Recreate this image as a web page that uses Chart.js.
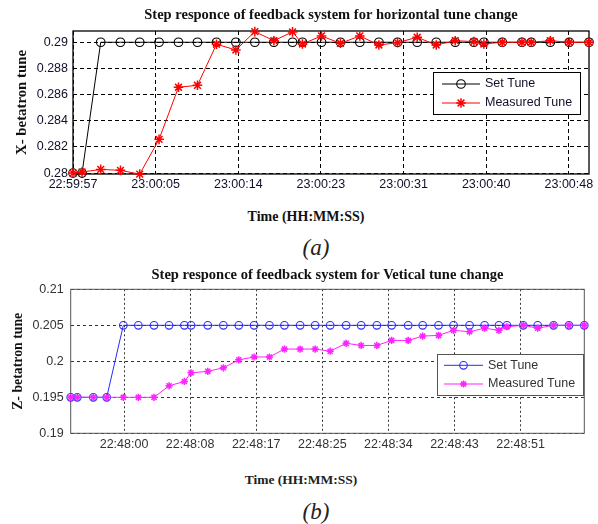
<!DOCTYPE html>
<html>
<head>
<meta charset="utf-8">
<script src="https://cdn.jsdelivr.net/npm/chart.js@4.4.1/dist/chart.umd.min.js"></script>
<style>
  html, body { margin: 0; padding: 0; background: #fff; }
  #page { position: relative; width: 598px; height: 524px; overflow: hidden; }
  canvas { position: absolute; left: 0; }
  .lbl { position: absolute; transform: translate(-50%, -50%); white-space: nowrap; line-height: 1;
         font-family: 'Liberation Serif', 'Times New Roman', serif; }
  .xt { font-weight: bold; color: #111; }
  .cap { font-style: italic; font-size: 23px; color: #222; }
</style>
</head>
<body>
<div id="page">
  <canvas id="hChart" width="598" height="200" style="top:0"></canvas>
  <div class="lbl xt" style="left:306px; top:217px; font-size:14px;">Time (HH:MM:SS)</div>
  <div class="lbl cap" style="left:316px; top:247px;">(a)</div>

  <canvas id="vChart" width="598" height="200" style="top:260px"></canvas>
  <div class="lbl xt" style="left:301px; top:480px; font-size:13.5px; color:#222;">Time (HH:MM:SS)</div>
  <div class="lbl cap" style="left:316px; top:511px;">(b)</div>
</div>
<script>
// --- horizontal tune step (a) ---
const hTimeSec = [0, 0.93, 2.85, 4.88, 6.86, 8.85, 10.85, 12.80, 14.76, 16.75, 18.70, 20.66, 22.58, 23.60, 25.56,
                  27.51, 29.50, 31.46, 33.38, 35.40, 37.36, 39.31, 41.23, 42.26, 44.15, 46.17, 47.13, 49.09, 51.04, 53.07];
const hSetTune = [0.28, 0.28, 0.29, 0.29, 0.29, 0.29, 0.29, 0.29, 0.29, 0.29, 0.29, 0.29, 0.29, 0.29, 0.29,
                  0.29, 0.29, 0.29, 0.29, 0.29, 0.29, 0.29, 0.29, 0.29, 0.29, 0.29, 0.29, 0.29, 0.29, 0.29];
const hMeasured = [0.2800, 0.28008, 0.28028, 0.28021, 0.27992, 0.28258, 0.28656, 0.28671, 0.28985, 0.28941,
                   0.29081, 0.29012, 0.29079, 0.28987, 0.29048, 0.28992, 0.29048, 0.28979, 0.28997, 0.29038,
                   0.28979, 0.29012, 0.29005, 0.28987, 0.29, 0.29, 0.29, 0.29012, 0.29, 0.29];
const hTickSec = [0, 8.5, 17, 25.5, 34, 42.5, 51];
const hTickLabels = ['22:59:57', '23:00:05', '23:00:14', '23:00:23', '23:00:31', '23:00:40', '23:00:48'];
const hYTicks = [0.28, 0.282, 0.284, 0.286, 0.288, 0.29];

// --- vertical tune step (b) ---
const vTimeSec = [-6.86, -6.01, -3.95, -2.23, -0.09, 1.84, 3.86, 5.79, 7.76, 8.62, 10.77, 12.78, 14.76, 16.73,
                  18.70, 20.63, 22.65, 24.58, 26.51, 28.57, 30.50, 32.52, 34.42, 36.55, 38.41, 40.45, 42.38,
                  44.44, 46.37, 48.22, 49.25, 51.35, 53.21, 55.25, 57.23, 59.20];
const vSetTune = [0.195, 0.195, 0.195, 0.195, 0.205, 0.205, 0.205, 0.205, 0.205, 0.205, 0.205, 0.205, 0.205,
                  0.205, 0.205, 0.205, 0.205, 0.205, 0.205, 0.205, 0.205, 0.205, 0.205, 0.205, 0.205, 0.205,
                  0.205, 0.205, 0.205, 0.205, 0.205, 0.205, 0.205, 0.205, 0.205, 0.205];
const vMeasured = [0.195, 0.195, 0.195, 0.195, 0.195, 0.195, 0.195, 0.1966, 0.1972, 0.1984, 0.1986, 0.1991,
                   0.2002, 0.2006, 0.2006, 0.2017, 0.2017, 0.2017, 0.2014, 0.2025, 0.2022, 0.2022, 0.2029,
                   0.2029, 0.2035, 0.2036, 0.2043, 0.2041, 0.2046, 0.2043, 0.2048, 0.205, 0.2046, 0.205,
                   0.205, 0.205];
const vTickSec = [0, 8.5, 17, 25.5, 34, 42.5, 51];
const vTickLabels = ['22:48:00', '22:48:08', '22:48:17', '22:48:25', '22:48:34', '22:48:43', '22:48:51'];
const vYTicks = [0.19, 0.195, 0.2, 0.205, 0.21];

const SERIF = "'Liberation Serif', 'Times New Roman', serif";
const SANS = "'Liberation Sans', Arial, sans-serif";
Chart.defaults.font.family = SANS;

function toPoints(xs, ys) {
    return xs.map((x, i) => ({ x: x, y: ys[i] }));
}

function drawMarker(ctx, style, x, y, r, stroke, fill, lw) {
    ctx.save();
    ctx.strokeStyle = stroke;
    ctx.fillStyle = fill;
    ctx.lineWidth = lw;
    ctx.beginPath();
    if (style === 'circle') {
        ctx.arc(x, y, r, 0, Math.PI * 2);
        ctx.fill();
    } else {
        for (let k = 0; k < 4; k++) {
            const a = k * Math.PI / 4;
            ctx.moveTo(x - Math.cos(a) * r, y - Math.sin(a) * r);
            ctx.lineTo(x + Math.cos(a) * r, y + Math.sin(a) * r);
        }
    }
    ctx.stroke();
    ctx.restore();
}

// box round the plot area, like matlab's "box on"
const framePlugin = {
    id: 'frame',
    beforeDatasetsDraw(chart, args, opts) {
        const a = chart.chartArea;
        const ctx = chart.ctx;
        ctx.save();
        ctx.setLineDash([]);
        ctx.strokeStyle = opts.color;
        ctx.lineWidth = opts.width;
        ctx.strokeRect(a.left, a.top, a.right - a.left, a.bottom - a.top);
        ctx.restore();
    }
};

// legend box with line + marker samples
const legendPlugin = {
    id: 'tuneLegend',
    afterDatasetsDraw(chart, args, o) {
        const ctx = chart.ctx;
        const [bx, by, bw, bh] = o.box;
        ctx.save();
        ctx.setLineDash([]);
        ctx.fillStyle = '#fff';
        ctx.fillRect(bx, by, bw, bh);
        ctx.strokeStyle = o.borderColor;
        ctx.lineWidth = 1;
        ctx.strokeRect(bx + 0.5, by + 0.5, bw, bh);
        chart.data.datasets.forEach((ds, i) => {
            const y = o.rows[i];
            ctx.strokeStyle = ds.borderColor;
            ctx.lineWidth = ds.borderWidth;
            ctx.beginPath();
            ctx.moveTo(o.lineFrom, y);
            ctx.lineTo(o.lineTo, y);
            ctx.stroke();
            drawMarker(ctx, ds.pointStyle, (o.lineFrom + o.lineTo) / 2, y, ds.pointRadius,
                       ds.pointBorderColor, ds.pointBackgroundColor, ds.pointBorderWidth);
            ctx.fillStyle = o.textColor;
            ctx.font = o.font;
            ctx.textBaseline = 'middle';
            ctx.textAlign = 'left';
            ctx.fillText(ds.label, o.textX, y);
        });
        ctx.restore();
    }
};

function makeChart(id, cfg) {
    return new Chart(document.getElementById(id), {
        type: 'line',
        data: {
            datasets: [{
                label: 'Set Tune',
                data: toPoints(cfg.x, cfg.set),
                borderColor: cfg.setColor,
                borderWidth: 1,
                pointStyle: 'circle',
                pointRadius: cfg.circleR,
                pointBorderWidth: 1.1,
                pointBorderColor: cfg.setColor,
                pointBackgroundColor: 'rgba(255,255,255,0)',
                tension: 0,
                clip: false,
                order: 2
            }, {
                label: 'Measured Tune',
                data: toPoints(cfg.x, cfg.measured),
                borderColor: cfg.measColor,
                borderWidth: 1,
                pointStyle: 'star',
                pointRadius: cfg.starR,
                pointBorderWidth: cfg.starW,
                pointBorderColor: cfg.measColor,
                pointBackgroundColor: cfg.measColor,
                tension: 0,
                clip: false,
                order: 1
            }]
        },
        options: {
            responsive: false,
            animation: false,
            devicePixelRatio: 1,
            layout: { padding: { left: 0, right: cfg.padRight, top: 0, bottom: 0 } },
            plugins: {
                legend: { display: false },
                tooltip: { enabled: false },
                title: {
                    display: true,
                    text: cfg.title,
                    fullSize: false,
                    color: '#111',
                    font: { family: SERIF, size: 14.5, weight: 'bold' },
                    padding: cfg.titlePad
                },
                frame: { color: cfg.frameColor, width: cfg.frameWidth },
                tuneLegend: cfg.legend
            },
            scales: {
                x: {
                    type: 'linear',
                    min: cfg.xMin,
                    max: cfg.xMax,
                    afterBuildTicks: axis => { axis.ticks = cfg.xTicks.map(v => ({ value: v })); },
                    afterFit: axis => { axis.height = cfg.xAxisH; },
                    grid: { color: cfg.gridColor, drawTicks: false, borderDash: cfg.xDash },
                    border: { display: false, dash: cfg.xDash },
                    ticks: {
                        autoSkip: false,
                        maxRotation: 0,
                        padding: cfg.xTickPad,
                        color: cfg.tickColor,
                        font: { size: 12.5 },
                        callback: (v, i) => cfg.xLabels[i]
                    }
                },
                y: {
                    type: 'linear',
                    min: cfg.yMin,
                    max: cfg.yMax,
                    afterBuildTicks: axis => { axis.ticks = cfg.yTicks.map(v => ({ value: v })); },
                    afterFit: axis => { axis.width = cfg.yAxisW; },
                    grid: { color: cfg.gridColor, drawTicks: false, borderDash: cfg.yDash },
                    border: { display: false, dash: cfg.yDash },
                    ticks: {
                        padding: cfg.yTickPad,
                        color: cfg.tickColor,
                        font: { size: 12.5 },
                        callback: v => String(v)
                    },
                    title: {
                        display: true,
                        text: cfg.yTitle,
                        color: '#111',
                        font: { family: SERIF, size: cfg.yTitleSize, weight: 'bold' },
                        padding: { top: cfg.yTitlePad, bottom: 0 }
                    }
                }
            }
        },
        plugins: [framePlugin, legendPlugin]
    });
}

makeChart('hChart', {
    x: hTimeSec, set: hSetTune, measured: hMeasured,
    setColor: '#000000', measColor: '#ff0000', circleR: 4.3, starR: 4.8, starW: 1.5,
    title: 'Step responce of feedback system for horizontal tune change',
    titlePad: { top: 7, bottom: 6.6 },
    padRight: 9,
    xMin: 0, xMax: 53.07, xTicks: hTickSec, xLabels: hTickLabels, xAxisH: 26, xTickPad: 3.5,
    yMin: 0.27993, yMax: 0.29086, yTicks: hYTicks, yAxisW: 73, yTickPad: 5,
    yTitle: 'X- betatron tune', yTitleSize: 14.8, yTitlePad: 13.2,
    gridColor: '#000', xDash: [4, 3], yDash: [4, 3], tickColor: '#10102a',
    frameColor: '#000', frameWidth: 1.3,
    legend: {
        box: [433, 72, 147, 42], rows: [84, 103], lineFrom: 442, lineTo: 480, textX: 485,
        borderColor: '#000', textColor: '#10102a', font: '12.5px ' + SANS
    }
});

makeChart('vChart', {
    x: vTimeSec, set: vSetTune, measured: vMeasured,
    setColor: '#2a2aff', measColor: '#ff22ff', circleR: 3.8, starR: 3.6, starW: 1.5,
    title: 'Step responce of feedback system for Vetical tune change',
    titlePad: { top: 7, bottom: 4.9 },
    padRight: 13.7,
    xMin: -6.86, xMax: 59.2, xTicks: vTickSec, xLabels: vTickLabels, xAxisH: 26.7, xTickPad: 4.2,
    yMin: 0.19, yMax: 0.21, yTicks: vYTicks, yAxisW: 70.7, yTickPad: 7,
    yTitle: 'Z- betatron tune', yTitleSize: 13.8, yTitlePad: 10,
    gridColor: '#333', xDash: [2, 2.5], yDash: [3, 3], tickColor: '#333',
    frameColor: '#555', frameWidth: 1,
    legend: {
        box: [437, 94, 146, 41], rows: [105.3, 124], lineFrom: 444, lineTo: 483, textX: 488,
        borderColor: '#555', textColor: '#333', font: '12.5px ' + SANS
    }
});
</script>
</body>
</html>
